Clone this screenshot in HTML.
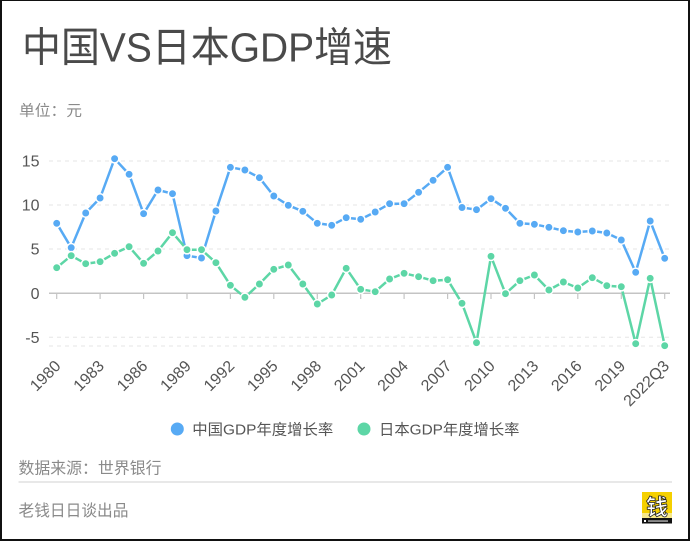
<!DOCTYPE html>
<html><head><meta charset="utf-8"><style>
html,body{margin:0;padding:0;background:#fff;}
svg{display:block;}
</style></head><body>
<svg width="690" height="541" viewBox="0 0 690 541" xmlns="http://www.w3.org/2000/svg">
<defs>
<marker id="mb" markerWidth="12" markerHeight="12" refX="6" refY="6" markerUnits="userSpaceOnUse"><circle cx="6" cy="6" r="4.2" fill="#57aaf4" stroke="#fff" stroke-width="1.5"/></marker>
<marker id="mg" markerWidth="12" markerHeight="12" refX="6" refY="6" markerUnits="userSpaceOnUse"><circle cx="6" cy="6" r="4.2" fill="#5dd6a6" stroke="#fff" stroke-width="1.5"/></marker>
</defs>
<rect x="0" y="0" width="690" height="541" fill="#111"/>
<rect x="2" y="1" width="686" height="538" fill="#fff"/>

<text x="22" y="61.5" font-family="'Liberation Sans','Noto Sans CJK SC',sans-serif" font-size="41" fill="#4a4a4a" textLength="370" lengthAdjust="spacingAndGlyphs">中国VS日本GDP增速</text>
<text x="19" y="115.5" font-family="'Liberation Sans','Noto Sans CJK SC',sans-serif" font-size="15" fill="#8a8a8a" textLength="63" lengthAdjust="spacingAndGlyphs">单位：元</text>

<g stroke="#e6e6e6" stroke-width="1" stroke-dasharray="4,4">
<line x1="49" y1="161" x2="670" y2="161"/>
<line x1="49" y1="205" x2="670" y2="205"/>
<line x1="49" y1="249" x2="670" y2="249"/>
<line x1="49" y1="337.3" x2="670" y2="337.3"/>
<line x1="49" y1="346" x2="670" y2="346"/>
</g>
<line x1="49" y1="293.3" x2="670" y2="293.3" stroke="#c4c4c4" stroke-width="1.5"/>
<g stroke="#c4c4c4" stroke-width="1.2">
<line x1="56.7" y1="293.3" x2="56.7" y2="299"/>
<line x1="100.1" y1="293.3" x2="100.1" y2="299"/>
<line x1="143.6" y1="293.3" x2="143.6" y2="299"/>
<line x1="187" y1="293.3" x2="187" y2="299"/>
<line x1="230.4" y1="293.3" x2="230.4" y2="299"/>
<line x1="273.8" y1="293.3" x2="273.8" y2="299"/>
<line x1="317.3" y1="293.3" x2="317.3" y2="299"/>
<line x1="360.7" y1="293.3" x2="360.7" y2="299"/>
<line x1="404.1" y1="293.3" x2="404.1" y2="299"/>
<line x1="447.6" y1="293.3" x2="447.6" y2="299"/>
<line x1="491" y1="293.3" x2="491" y2="299"/>
<line x1="534.4" y1="293.3" x2="534.4" y2="299"/>
<line x1="577.8" y1="293.3" x2="577.8" y2="299"/>
<line x1="621.3" y1="293.3" x2="621.3" y2="299"/>
<line x1="664.7" y1="293.3" x2="664.7" y2="299"/>
</g>

<g font-family="'Liberation Sans',sans-serif" font-size="16" fill="#555" text-anchor="end">
<text x="39.5" y="166.7">15</text>
<text x="39.5" y="210.7">10</text>
<text x="39.5" y="254.7">5</text>
<text x="39.5" y="299">0</text>
<text x="39.5" y="343">-5</text>
</g>

<g font-family="'Liberation Sans',sans-serif" font-size="16" fill="#555" text-anchor="end">
<text transform="translate(57.7,363) rotate(-45)" dy="0.35em">1980</text>
<text transform="translate(101.1,363) rotate(-45)" dy="0.35em">1983</text>
<text transform="translate(144.6,363) rotate(-45)" dy="0.35em">1986</text>
<text transform="translate(188,363) rotate(-45)" dy="0.35em">1989</text>
<text transform="translate(231.4,363) rotate(-45)" dy="0.35em">1992</text>
<text transform="translate(274.8,363) rotate(-45)" dy="0.35em">1995</text>
<text transform="translate(318.3,363) rotate(-45)" dy="0.35em">1998</text>
<text transform="translate(361.7,363) rotate(-45)" dy="0.35em">2001</text>
<text transform="translate(405.1,363) rotate(-45)" dy="0.35em">2004</text>
<text transform="translate(448.6,363) rotate(-45)" dy="0.35em">2007</text>
<text transform="translate(492,363) rotate(-45)" dy="0.35em">2010</text>
<text transform="translate(535.4,363) rotate(-45)" dy="0.35em">2013</text>
<text transform="translate(578.8,363) rotate(-45)" dy="0.35em">2016</text>
<text transform="translate(622.3,363) rotate(-45)" dy="0.35em">2019</text>
<text transform="translate(666.2,363) rotate(-45)" dy="0.35em">2022Q3</text>
</g>

<polyline fill="none" stroke="#57aaf4" stroke-width="2.5" stroke-linejoin="round" marker-start="url(#mb)" marker-mid="url(#mb)" marker-end="url(#mb)" points="56.7,223.3 71.2,247.7 85.7,213 100.1,198 114.6,158.7 129.1,174.3 143.6,213.7 158,190 172.5,193.7 187,255.7 201.5,258 215.9,211 230.4,167.3 244.9,170 259.4,177.7 273.8,196 288.3,205.3 302.8,211.3 317.3,223.3 331.7,225.3 346.2,217.7 360.7,219.3 375.2,212 389.6,203.7 404.1,203.7 418.6,192.3 433.1,180.3 447.6,167.3 462,207.5 476.5,209.7 491,198.7 505.5,208.3 519.9,223.3 534.4,224.3 548.9,227.3 563.4,230.7 577.8,232 592.3,231 606.8,233 621.3,240 635.7,272.3 650.2,221 664.7,258.3"/>
<polyline fill="none" stroke="#5dd6a6" stroke-width="2.5" stroke-linejoin="round" marker-start="url(#mg)" marker-mid="url(#mg)" marker-end="url(#mg)" points="56.7,267.7 71.2,255.7 85.7,263.7 100.1,261.7 114.6,253.3 129.1,246.7 143.6,263.3 158,251 172.5,232.7 187,249.7 201.5,249.7 215.9,262.7 230.4,285.3 244.9,297.3 259.4,284 273.8,269.3 288.3,265 302.8,284 317.3,304 331.7,295 346.2,268.3 360.7,289.3 375.2,291.7 389.6,279 404.1,273.3 418.6,276.7 433.1,280.7 447.6,279.7 462,303.3 476.5,342.7 491,256.3 505.5,293.7 519.9,280.7 534.4,275 548.9,290 563.4,282 577.8,288 592.3,277.7 606.8,285.7 621.3,286.7 635.7,343.7 650.2,278.3 664.7,345.7"/>

<circle cx="177.3" cy="429" r="6.5" fill="#57aaf4"/>
<text x="192.3" y="434.5" font-family="'Liberation Sans','Noto Sans CJK SC',sans-serif" font-size="15" fill="#555" textLength="141" lengthAdjust="spacingAndGlyphs">中国GDP年度增长率</text>
<circle cx="364" cy="429" r="6.5" fill="#5dd6a6"/>
<text x="379" y="434.5" font-family="'Liberation Sans','Noto Sans CJK SC',sans-serif" font-size="15" fill="#555" textLength="140.5" lengthAdjust="spacingAndGlyphs">日本GDP年度增长率</text>

<text x="18.5" y="473.5" font-family="'Liberation Sans','Noto Sans CJK SC',sans-serif" font-size="16" fill="#8a8a8a" textLength="143" lengthAdjust="spacingAndGlyphs">数据来源：世界银行</text>
<rect x="18.5" y="481" width="653.5" height="2" fill="#e8e8e8"/>
<text x="18.5" y="516" font-family="'Liberation Sans','Noto Sans CJK SC',sans-serif" font-size="16" fill="#8a8a8a" textLength="110" lengthAdjust="spacingAndGlyphs">老钱日日谈出品</text>

<rect x="642" y="492" width="30" height="21" fill="#f5d000"/>
<rect x="642" y="513" width="30" height="5" fill="#f7e98a"/>
<rect x="642" y="518" width="30" height="5.5" fill="#111"/>
<text x="657" y="515" text-anchor="middle" font-family="'Noto Sans CJK SC',sans-serif" font-weight="bold" font-size="22" fill="#fff" stroke="#222" stroke-width="0.8">钱</text>
<rect x="644" y="520" width="2" height="2" fill="#fff"/>
<rect x="648" y="520.3" width="20" height="1.5" fill="#aaa"/>
</svg>
</body></html>
